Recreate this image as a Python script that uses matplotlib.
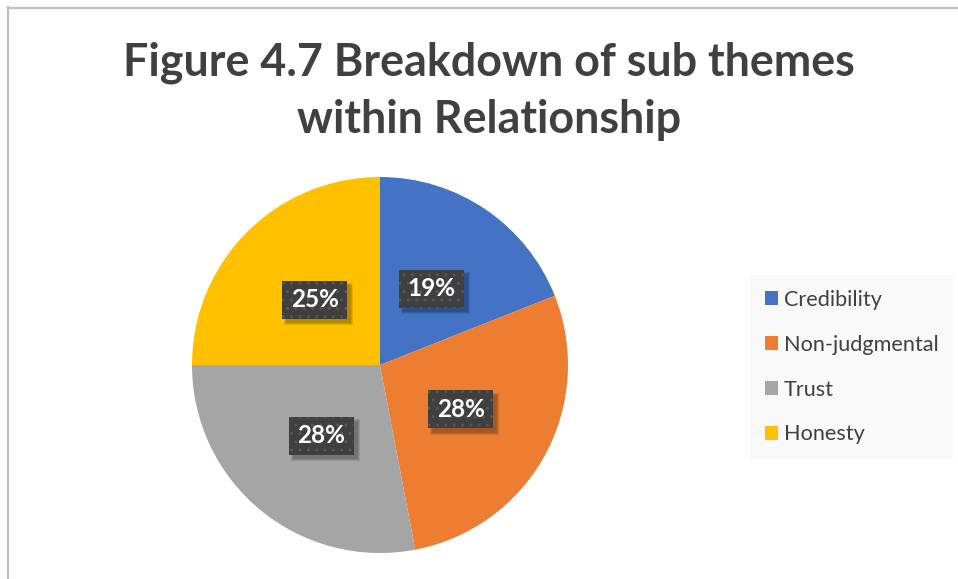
import matplotlib
matplotlib.use("Agg")
import numpy as np
import matplotlib.pyplot as plt
from matplotlib.patches import Patch, Rectangle
from matplotlib.lines import Line2D
import matplotlib.transforms as mtransforms

# Sub-theme shares within the "Relationship" theme
categories = ["Credibility", "Non-judgmental", "Trust", "Honesty"]
shares = [19, 28, 28, 25]
colors = ["#4472C4", "#ED7D31", "#A5A5A5", "#FFC000"]
title = "Figure 4.7 Breakdown of sub themes\nwithin Relationship"

W, H = 958, 579
fig = plt.figure(figsize=(W / 100, H / 100), dpi=100)
fig.patch.set_facecolor("white")

# Light frame on the top and left edges
fig.add_artist(Line2D([8 / W, 1], [1 - 7.5 / H, 1 - 7.5 / H], color="#BFBFBF",
                      lw=1.6, transform=fig.transFigure))
fig.add_artist(Line2D([8 / W, 8 / W], [0, 1 - 7 / H], color="#BFBFBF",
                      lw=1.6, transform=fig.transFigure))

fig.text(489 / W, 1 - 91 / H, title, ha="center", va="center",
         fontsize=32.3, fontweight="bold", family="Lato", color="#404040",
         linespacing=1.45)

# Pie area: centre (380, 365) px, radius 188 px
cx, cy, R = 380, 365, 188
ax = fig.add_axes([(cx - R) / W, (H - cy - R) / H, 2 * R / W, 2 * R / H])
wedges, texts = ax.pie(shares, colors=colors, startangle=90, counterclock=False,
                       radius=1, wedgeprops=dict(linewidth=0))
ax.set_xlim(-1, 1)
ax.set_ylim(-1, 1)
ax.set_aspect("equal")
ax.axis("off")

# Data labels on dark dotted boxes with a soft drop shadow
bw, bh = 0.65, 0.38  # box size in inches
cum = np.cumsum([0] + shares[:-1])
total = sum(shares)
for start, val in zip(cum, shares):
    mid = np.deg2rad(90 - (start + val / 2) / total * 360)
    x, y = 0.49 * np.cos(mid), 0.49 * np.sin(mid)
    anchor = fig.dpi_scale_trans + mtransforms.ScaledTranslation(x, y, ax.transData)
    for k, a in enumerate([0.10, 0.10, 0.12]):
        grow = 0.02 * (2 - k)
        ax.add_patch(Rectangle((-bw / 2 + 0.04 - grow / 2, -bh / 2 - 0.045 - grow / 2),
                               bw + grow, bh + grow, transform=anchor,
                               facecolor="black", alpha=a, linewidth=0, zorder=3))
    ax.add_patch(Rectangle((-bw / 2, -bh / 2), bw, bh, transform=anchor,
                           facecolor="#3F3F3F", edgecolor="#565656", hatch="..",
                           linewidth=0, zorder=4))
    ax.text(x, y, f"{val}%", ha="center", va="center", fontsize=17.5,
            fontweight="bold", family="Lato", color="white", zorder=5)

handles = [Patch(facecolor=c, edgecolor="none") for c in colors]
leg = fig.legend(handles, categories, loc="upper left",
                 bbox_to_anchor=(750 / W, 1 - 275 / H), frameon=True,
                 fancybox=False, prop=dict(family="Lato", size=15.6),
                 labelcolor="#404040", handlelength=0.6, handleheight=0.6,
                 handletextpad=0.28, labelspacing=1.15, borderpad=0.68,
                 borderaxespad=0)
leg.get_frame().set_facecolor("#F8F8F8")
leg.get_frame().set_edgecolor("none")

fig.savefig("out.png", dpi=100, facecolor="white")
